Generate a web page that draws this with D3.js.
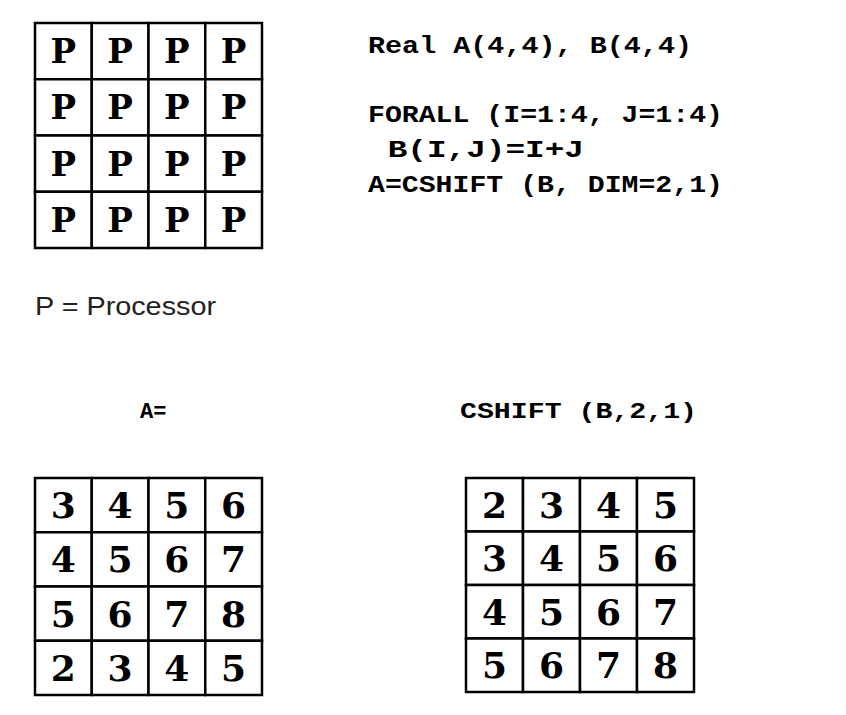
<!DOCTYPE html>
<html>
<head>
<meta charset="utf-8">
<script src="https://cdn.jsdelivr.net/npm/d3@7"></script>
<style>
  body { margin: 0; background: #fff; }
</style>
</head>
<body>
<svg id="chart" width="846" height="715"></svg>
<script>
// grid contents, row by row
const procGrid = [
  ["P", "P", "P", "P"],
  ["P", "P", "P", "P"],
  ["P", "P", "P", "P"],
  ["P", "P", "P", "P"]
];
const aValues = [
  [3, 4, 5, 6],
  [4, 5, 6, 7],
  [5, 6, 7, 8],
  [2, 3, 4, 5]
];
const bShifted = [
  [2, 3, 4, 5],
  [3, 4, 5, 6],
  [4, 5, 6, 7],
  [5, 6, 7, 8]
];
const codeLines = [
  "Real A(4,4), B(4,4)",
  "FORALL (I=1:4, J=1:4)",
  " B(I,J)=I+J",
  "A=CSHIFT (B, DIM=2,1)"
];

const svg = d3.select("#chart");
const mono = "'Liberation Mono', 'Courier New', monospace";
const serif = "'DejaVu Serif', 'Liberation Serif', serif";

function drawGrid(data, x0, x1, y0, y1, size) {
  const idx = d3.range(4);
  const x = d3.scaleBand().domain(idx).range([x0, x1]);
  const y = d3.scaleBand().domain(idx).range([y0, y1]);
  const g = svg.append("g");
  const cells = data.flatMap((row, r) => row.map((v, c) => ({ r, c, v })));
  g.selectAll("rect")
    .data(cells)
    .join("rect")
    .attr("x", d => x(d.c))
    .attr("y", d => y(d.r))
    .attr("width", x.bandwidth())
    .attr("height", y.bandwidth())
    .attr("fill", "#fff")
    .attr("stroke", "#000")
    .attr("stroke-width", 2.5);
  g.selectAll("text")
    .data(cells)
    .join("text")
    .text(d => d.v)
    .attr("x", d => x(d.c) + x.bandwidth() / 2)
    .attr("y", d => y(d.r) + y.bandwidth() / 2)
    .attr("text-anchor", "middle")
    .attr("dominant-baseline", "central")
    .attr("font-family", serif)
    .attr("font-weight", "bold")
    .attr("font-size", size)
    .attr("fill", "#000");
}

drawGrid(procGrid, 35, 262, 23, 248, 34);
drawGrid(aValues, 35, 262, 478, 695, 36);
drawGrid(bShifted, 466, 694, 478, 692, 36);

// code block
const codeY = [53, 122, 157, 192];
const codeW = [324, 355, 216, 355];
svg.selectAll("text.code")
  .data(codeLines)
  .join("text")
  .attr("class", "code")
  .text(d => d)
  .attr("x", 368)
  .attr("y", (d, i) => codeY[i])
  .attr("textLength", (d, i) => codeW[i])
  .attr("lengthAdjust", "spacingAndGlyphs")
  .attr("font-family", mono)
  .attr("font-weight", "bold")
  .attr("font-size", 23)
  .style("white-space", "pre");

svg.append("text")
  .text("P = Processor")
  .attr("x", 35)
  .attr("y", 315)
  .attr("textLength", 181)
  .attr("lengthAdjust", "spacingAndGlyphs")
  .attr("font-family", "'Liberation Sans', Arial, sans-serif")
  .attr("font-size", 25)
  .attr("fill", "#222");

svg.append("text")
  .text("A=")
  .attr("x", 140)
  .attr("y", 418)
  .attr("font-family", mono)
  .attr("font-weight", "bold")
  .attr("font-size", 22);

svg.append("text")
  .text("CSHIFT (B,2,1)")
  .attr("x", 460)
  .attr("y", 418)
  .attr("textLength", 237)
  .attr("lengthAdjust", "spacingAndGlyphs")
  .attr("font-family", mono)
  .attr("font-weight", "bold")
  .attr("font-size", 22);
</script>
</body>
</html>
